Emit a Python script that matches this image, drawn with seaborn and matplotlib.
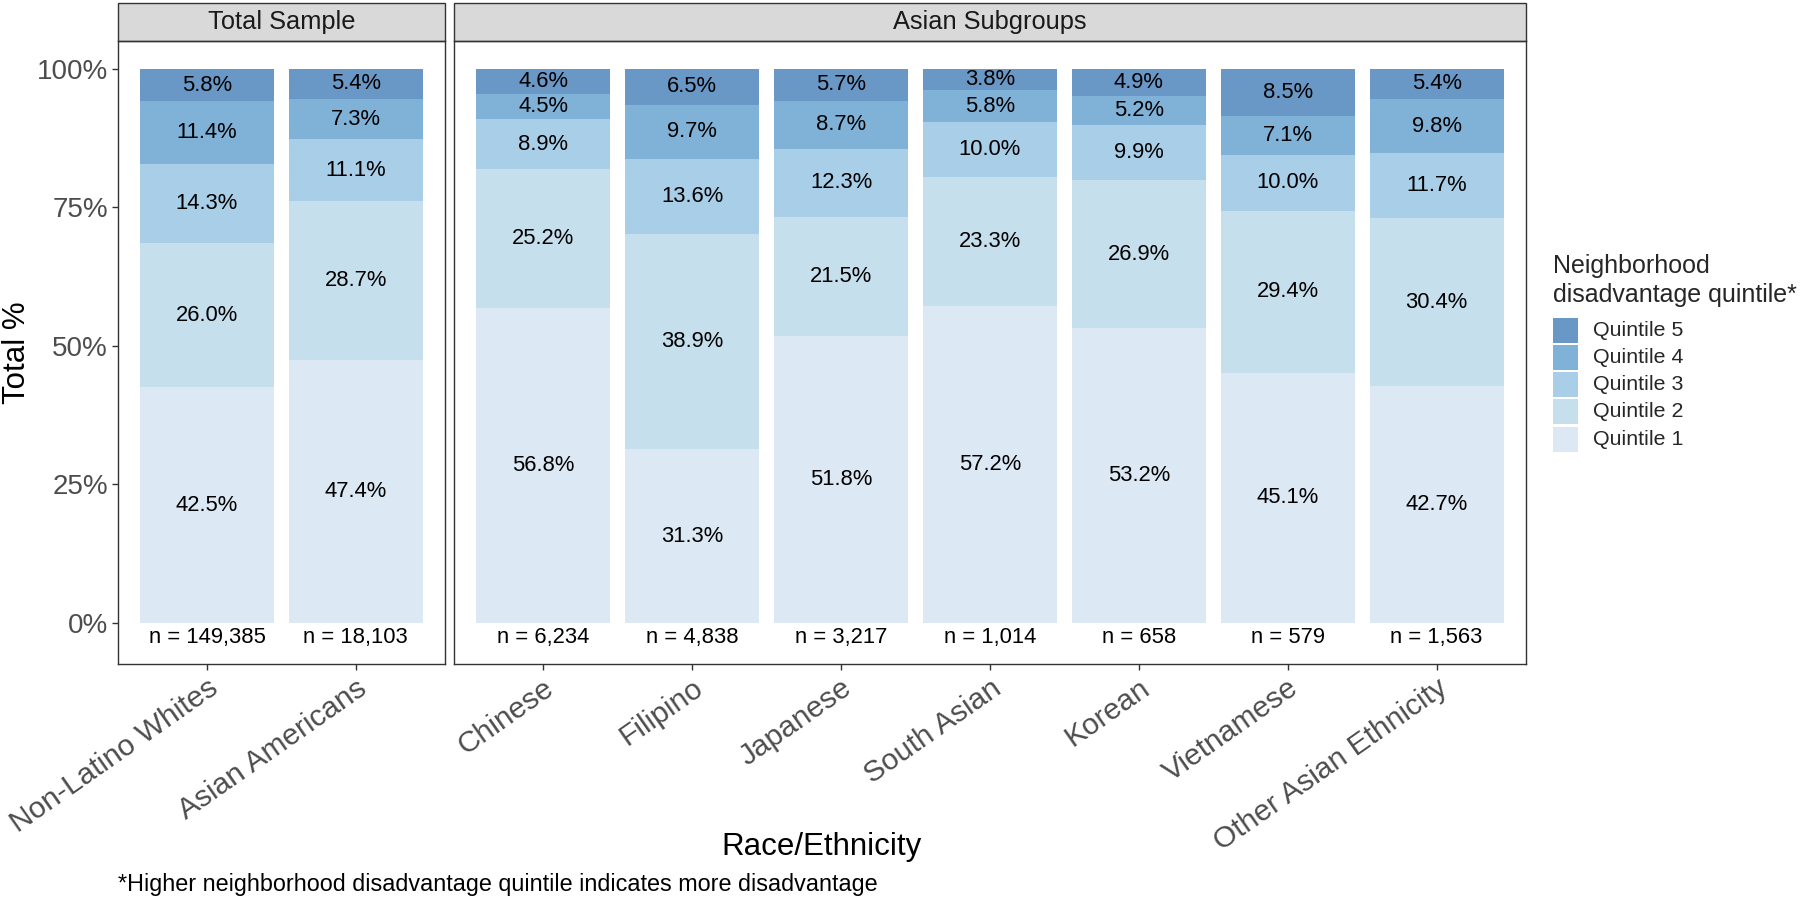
import numpy as np
import pandas as pd
import matplotlib
matplotlib.use("Agg")
import matplotlib.pyplot as plt
from matplotlib.patches import Rectangle
import seaborn as sns

# data: share of each quintile (%) per group
total_groups = ["Non-Latino Whites", "Asian Americans"]
asian_groups = ["Chinese", "Filipino", "Japanese", "South Asian",
                "Korean", "Vietnamese", "Other Asian Ethnicity"]
groups = total_groups + asian_groups

quintiles = ["Quintile 1", "Quintile 2", "Quintile 3", "Quintile 4", "Quintile 5"]
q1 = [42.5, 47.4, 56.8, 31.3, 51.8, 57.2, 53.2, 45.1, 42.7]
q2 = [26.0, 28.7, 25.2, 38.9, 21.5, 23.3, 26.9, 29.4, 30.4]
q3 = [14.3, 11.1, 8.9, 13.6, 12.3, 10.0, 9.9, 10.0, 11.7]
q4 = [11.4, 7.3, 4.5, 9.7, 8.7, 5.8, 5.2, 7.1, 9.8]
q5 = [5.8, 5.4, 4.6, 6.5, 5.7, 3.8, 4.9, 8.5, 5.4]
sample_n = [149385, 18103, 6234, 4838, 3217, 1014, 658, 579, 1563]

colors = {"Quintile 1": "#dce8f4", "Quintile 2": "#c6dfed", "Quintile 3": "#a8cee8",
          "Quintile 4": "#80b2d8", "Quintile 5": "#6a98c6"}

# long table with stacked positions (position = fill)
rows = []
for i, g in enumerate(groups):
    vals = np.array([q1[i], q2[i], q3[i], q4[i], q5[i]])
    frac = vals / vals.sum()
    tops = np.cumsum(frac)
    for k, q in enumerate(quintiles):
        rows.append({"group": g, "quintile": q, "pct": vals[k],
                     "top": tops[k], "mid": tops[k] - frac[k] / 2})
df = pd.DataFrame(rows)
n_map = dict(zip(groups, sample_n))

sns.set_theme(style="white")
plt.rcParams["font.family"] = ["Liberation Sans", "DejaVu Sans"]

W, H = 1800, 900
fig = plt.figure(figsize=(18, 9), dpi=100)

panel_top, panel_bot = 40.7, 664
ax_l = fig.add_axes([117.7 / W, 1 - panel_bot / H, 327.3 / W, (panel_bot - panel_top) / H])
ax_r = fig.add_axes([454 / W, 1 - panel_bot / H, 1072 / W, (panel_bot - panel_top) / H])

edge = "#333333"
for ax, grp, title in [(ax_l, total_groups, "Total Sample"), (ax_r, asian_groups, "Asian Subgroups")]:
    sub = df[df["group"].isin(grp)]
    # draw cumulative tops from highest quintile down so each layer covers the next
    for q in quintiles[::-1]:
        sns.barplot(data=sub[sub["quintile"] == q], x="group", y="top", order=grp,
                    color=colors[q], saturation=1, width=0.9, errorbar=None,
                    edgecolor="none", linewidth=0, ax=ax)
    for i, g in enumerate(grp):
        for _, r in sub[sub["group"] == g].iterrows():
            ax.text(i, r["mid"], f"{r['pct']:.1f}%", ha="center", va="center",
                    fontsize=15.8, color="black")
        ax.text(i, -0.027, f"n = {n_map[g]:,}", ha="center", va="center",
                fontsize=15.8, color="black")

    ax.set_xlim(-0.6, len(grp) - 0.4)
    ax.set_ylim(-0.0746, 1.0511)
    ax.set_xlabel("")
    ax.set_ylabel("")
    ax.set_xticks(range(len(grp)))
    ax.set_xticklabels(grp, rotation=35, ha="right", va="top",
                       rotation_mode="anchor", fontsize=21.5, color="#4d4d4d")
    ax.tick_params(axis="x", bottom=True, length=4, width=1, color=edge, pad=3)
    for s in ax.spines.values():
        s.set_visible(True)
        s.set_color(edge)
        s.set_linewidth(1.0)
    ax.grid(False)

    # facet strip
    strip_h = 38 / (panel_bot - panel_top)
    ax.add_patch(Rectangle((0, 1), 1, strip_h, transform=ax.transAxes, clip_on=False,
                           facecolor="#d9d9d9", edgecolor=edge, linewidth=1.0))
    ax.text(0.5, 1 + strip_h / 2, title, transform=ax.transAxes, ha="center",
            va="center", fontsize=18.3, color="#1a1a1a")

ax_l.set_yticks([0, 0.25, 0.5, 0.75, 1.0])
ax_l.set_yticklabels(["0%", "25%", "50%", "75%", "100%"], fontsize=20, color="#4d4d4d")
ax_l.tick_params(axis="y", left=True, length=4, width=1, color=edge, pad=3)
ax_r.set_yticks([])

# axis titles and footnote
fig.text(17 / W, 1 - (panel_top + panel_bot) / 2 / H, "Total %", rotation=90,
         ha="center", va="center", fontsize=22.5, color="black")
fig.text(822 / W, 1 - 847 / H, "Race/Ethnicity", ha="center", va="center",
         fontsize=22.5, color="black")
fig.text(118 / W, 1 - 885 / H, "*Higher neighborhood disadvantage quintile indicates more disadvantage",
         ha="left", va="center", fontsize=16.8, color="black")

# legend
fig.text(1553 / W, 1 - 273.5 / H, "Neighborhood", ha="left", va="baseline", fontsize=18)
fig.text(1553 / W, 1 - 302 / H, "disadvantage quintile*", ha="left", va="baseline", fontsize=18)
for k, q in enumerate(quintiles[::-1]):
    y0 = 317.5 + k * 27.3
    fig.add_artist(Rectangle((1553 / W, 1 - (y0 + 25) / H), 25 / W, 25 / H,
                             transform=fig.transFigure, facecolor=colors[q], edgecolor="none"))
    fig.text(1593 / W, 1 - (y0 + 12.5) / H, q, ha="left", va="center", fontsize=15.4)

fig.savefig("out.png", dpi=100)
